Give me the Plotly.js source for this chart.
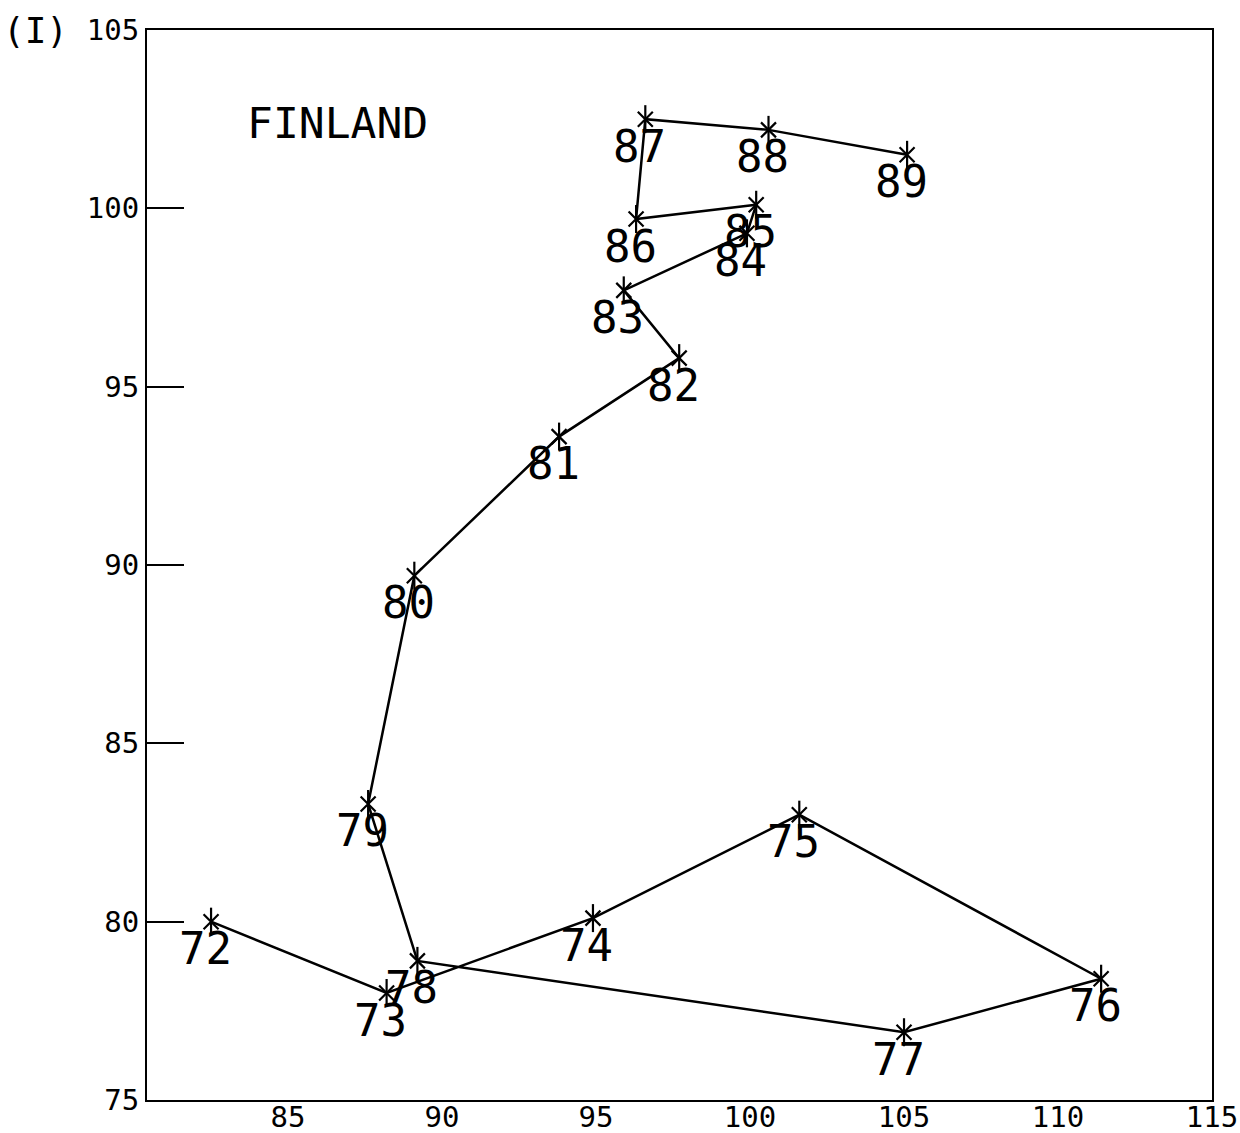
<!DOCTYPE html>
<html>
<head>
<meta charset="utf-8">
<script src="https://cdn.plot.ly/plotly-3.0.1.min.js"></script>
<style>html,body{margin:0;padding:0;background:#fff;}#chart{width:1240px;height:1133px;}</style>
</head>
<body>
<div id="chart"></div>
<script>
const years = ["72","73","74","75","76","77","78","79","80","81","82","83","84","85","86","87","88","89"];
const xValues = [82.5, 88.2, 94.9, 101.6, 111.4, 105.0, 89.2, 87.6, 89.1, 93.8, 97.7, 95.9, 99.9, 100.2, 96.3, 96.6, 100.6, 105.1];
const yValues = [80.0, 78.0, 80.1, 83.0, 78.4, 76.9, 78.9, 83.3, 89.7, 93.6, 95.8, 97.7, 99.3, 100.1, 99.7, 102.5, 102.2, 101.5];
const xTicks = [85, 90, 95, 100, 105, 110, 115];
const yTicks = [75, 80, 85, 90, 95, 100, 105];
const countryName = "FINLAND";
const panelLabel = "(I)";

const mono = "DejaVu Sans Mono, Liberation Mono, monospace";

const pathTrace = {
  x: xValues,
  y: yValues,
  mode: "lines+markers",
  type: "scatter",
  line: {color: "#000", width: 2.5},
  marker: {symbol: "line-ns-open", size: 20, color: "#000", line: {color: "#000", width: 2.2}},
  cliponaxis: false,
  hoverinfo: "skip"
};
const crossTrace = {
  x: xValues,
  y: yValues,
  mode: "markers",
  type: "scatter",
  marker: {symbol: "x-thin-open", size: 15, color: "#000", line: {color: "#000", width: 2.2}},
  cliponaxis: false,
  hoverinfo: "skip"
};

const yearLabels = years.map((t, i) => ({
  text: t, xref: "x", yref: "y", x: xValues[i], y: yValues[i],
  xanchor: "center", yanchor: "middle", xshift: -6, yshift: -27,
  showarrow: false, font: {family: mono, size: 44, color: "#000"}
}));

const layout = {
  width: 1240,
  height: 1133,
  margin: {l: 147, r: 28, t: 30, b: 33},
  paper_bgcolor: "#fff",
  plot_bgcolor: "#fff",
  showlegend: false,
  xaxis: {
    range: [80.42, 115],
    tickmode: "array",
    tickvals: xTicks,
    ticktext: xTicks.map(String),
    ticks: "",
    showgrid: false,
    zeroline: false,
    showline: true,
    mirror: true,
    linecolor: "#000",
    linewidth: 2,
    tickfont: {family: mono, size: 29, color: "#000"},
    ticklabelstandoff: -10
  },
  yaxis: {
    range: [75, 105],
    tickmode: "array",
    tickvals: yTicks,
    ticktext: yTicks.map(String),
    ticks: "inside",
    ticklen: 37,
    tickwidth: 2,
    tickcolor: "#000",
    showgrid: false,
    zeroline: false,
    showline: true,
    mirror: true,
    linecolor: "#000",
    linewidth: 2,
    tickfont: {family: mono, size: 29, color: "#000"}
  },
  annotations: yearLabels.concat([
    {text: countryName, xref: "x", yref: "y", x: 83.6, y: 102.4, xanchor: "left", yanchor: "middle",
     showarrow: false, font: {family: mono, size: 43, color: "#000"}},
    {text: panelLabel, xref: "paper", yref: "paper", x: -0.137, y: 1.0, xanchor: "left", yanchor: "middle",
     showarrow: false, font: {family: mono, size: 36, color: "#000"}}
  ])
};

Plotly.newPlot("chart", [pathTrace, crossTrace], layout, {staticPlot: true, displayModeBar: false});
</script>
</body>
</html>
